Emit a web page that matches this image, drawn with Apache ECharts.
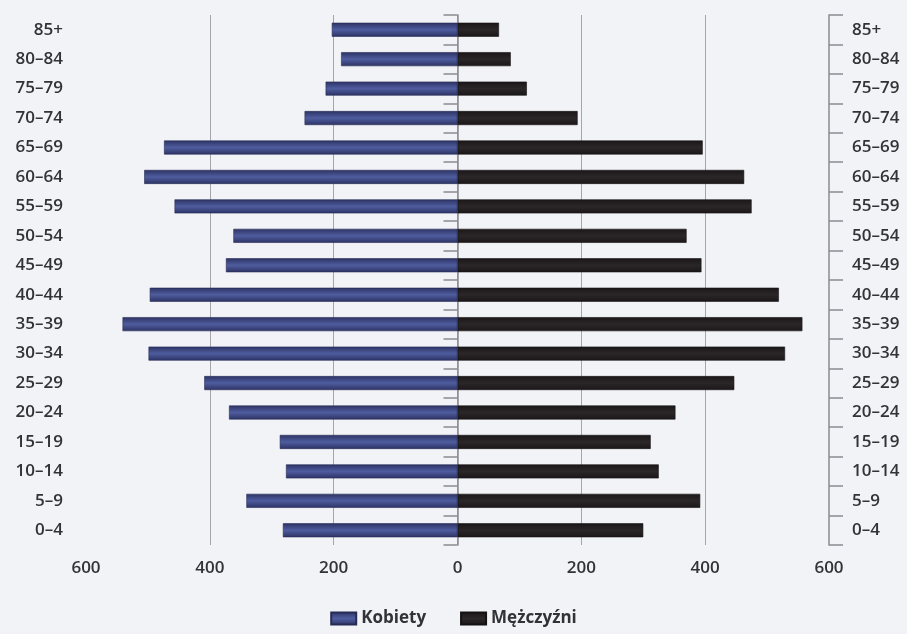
<!DOCTYPE html>
<html>
<head>
<meta charset="utf-8">
<script src="https://cdn.jsdelivr.net/npm/echarts@6/dist/echarts.min.js"></script>
<style>
  html, body { margin: 0; padding: 0; background: #f2f3f6; }
  #chart { width: 907px; height: 634px; }
</style>
</head>
<body>
<div id="chart"></div>
<script>
// Age groups, listed from the oldest (top) to the youngest (bottom)
const ageGroups = ['85+', '80–84', '75–79', '70–74', '65–69', '60–64', '55–59', '50–54', '45–49',
  '40–44', '35–39', '30–34', '25–29', '20–24', '15–19', '10–14', '5–9', '0–4'];

// Women (drawn to the left of zero)
const kobiety = [203, 188, 213, 247, 474, 506, 457, 362, 374, 497, 541, 499, 409, 369, 287, 277, 341, 282];

// Men (drawn to the right of zero)
const mezczyzni = [67, 86, 112, 194, 396, 463, 475, 370, 394, 519, 557, 529, 447, 352, 312, 325, 392, 300];

// Horizontal axis ticks
const xTicks = [-600, -400, -200, 0, 200, 400, 600];

const labelFont = { fontFamily: '"Open Sans", "Noto Sans", sans-serif', fontWeight: 600, color: '#333236' };
const axisGray = '#8c8a92';

function makeYAxis(pos) {
  return {
    type: 'category',
    data: ageGroups,
    inverse: true,
    position: pos,
    axisLine: { show: true, lineStyle: { color: axisGray, width: 1.5 } },
    axisTick: { show: true, length: 14, lineStyle: { color: axisGray, width: 1.5 } },
    axisLabel: Object.assign({ fontSize: 17, margin: 23 }, labelFont),
    splitLine: { show: false }
  };
}

const chart = echarts.init(document.getElementById('chart'), null, { renderer: 'canvas' });

chart.setOption({
  backgroundColor: '#f2f3f6',
  animation: false,
  grid: { left: 86, right: 78, top: 15, bottom: 89, containLabel: false },
  legend: {
    bottom: 2,
    left: 'center',
    itemWidth: 25,
    itemHeight: 12,
    itemGap: 34,
    icon: 'rect',
    textStyle: { fontFamily: '"Open Sans", "Noto Sans", sans-serif', fontWeight: 700, fontSize: 17, color: '#333236' },
    data: ['Kobiety', 'Mężczyźni']
  },
  xAxis: {
    type: 'value',
    min: xTicks[0],
    max: xTicks[xTicks.length - 1],
    interval: 200,
    axisLine: { show: false },
    axisTick: { show: false },
    axisLabel: Object.assign({
      fontSize: 17,
      margin: 15,
      formatter: v => String(Math.abs(v))
    }, labelFont),
    splitLine: {
      show: true,
      lineStyle: { color: ['transparent', '#a7a4ac', '#a7a4ac', '#a7a4ac', '#a7a4ac', '#a7a4ac', 'transparent'], width: 1 }
    }
  },
  yAxis: [makeYAxis('left'), makeYAxis('right')],
  series: [
    {
      name: 'Kobiety',
      type: 'bar',
      yAxisIndex: 0,
      barWidth: 14,
      barGap: '-100%',
      data: kobiety.map(v => -v),
      itemStyle: {
        borderColor: '#262b55',
        borderWidth: 0.6,
        color: new echarts.graphic.LinearGradient(0, 0, 0, 1, [
          { offset: 0, color: '#2c3263' },
          { offset: 0.5, color: '#4f5d9f' },
          { offset: 1, color: '#2c3263' }
        ])
      }
    },
    {
      name: 'Mężczyźni',
      type: 'bar',
      yAxisIndex: 0,
      barWidth: 14,
      barGap: '-100%',
      data: mezczyzni,
      itemStyle: {
        borderColor: '#141113',
        borderWidth: 0.6,
        color: new echarts.graphic.LinearGradient(0, 0, 0, 1, [
          { offset: 0, color: '#1b1719' },
          { offset: 0.5, color: '#2b2729' },
          { offset: 1, color: '#1b1719' }
        ])
      }
    }
  ]
});
</script>
</body>
</html>
